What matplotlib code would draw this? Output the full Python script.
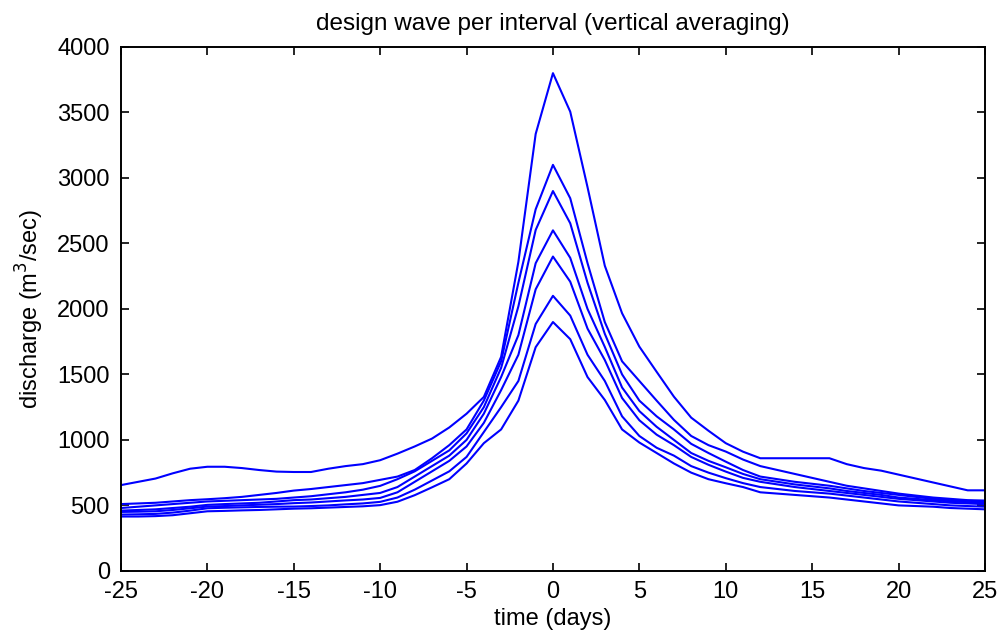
import numpy as np
import matplotlib
matplotlib.use("Agg")
import matplotlib.pyplot as plt

plt.rcParams['font.family'] = ['Liberation Sans', 'DejaVu Sans']
plt.rcParams['axes.unicode_minus'] = False

days = np.arange(-25, 26)

# discharge per interval (m3/sec), one list per design wave, days -25..25
wave_a = [655, 680, 705, 745, 780, 795, 795, 785, 770, 758, 755, 755, 780, 800, 815, 845, 895, 950, 1010, 1095,
          1200, 1328, 1634, 2360, 3336, 3800, 3506, 2930, 2330, 1967, 1712, 1520, 1330, 1170, 1070, 975, 910, 860,
          860, 860, 860, 860, 815, 785, 765, 735, 705, 675, 645, 615, 615]
wave_b = [510, 515, 520, 530, 540, 547, 555, 565, 580, 595, 613, 625, 640, 655, 670, 695, 720, 770, 860, 960,
          1080, 1300, 1600, 2200, 2761, 3100, 2845, 2350, 1900, 1600, 1450, 1300, 1153, 1030, 960, 911, 850, 800,
          770, 740, 710, 680, 650, 630, 610, 590, 575, 560, 550, 540, 537]
wave_c = [480, 490, 500, 510, 520, 530, 535, 540, 545, 550, 560, 570, 585, 600, 620, 649, 700, 760, 840, 920,
          1050, 1250, 1550, 2020, 2603, 2900, 2654, 2200, 1810, 1500, 1300, 1180, 1080, 970, 900, 834, 770, 720,
          700, 680, 665, 650, 630, 610, 595, 580, 565, 550, 540, 535, 530]
wave_d = [460, 465, 470, 480, 490, 504, 510, 515, 520, 530, 540, 545, 555, 565, 580, 595, 640, 720, 800, 880,
          1000, 1200, 1480, 1800, 2349, 2600, 2390, 2000, 1710, 1400, 1220, 1100, 1000, 900, 840, 791, 740, 700,
          680, 660, 645, 630, 610, 595, 580, 560, 550, 540, 530, 525, 520]
wave_e = [450, 452, 455, 465, 478, 491, 495, 500, 505, 510, 517, 522, 530, 538, 545, 557, 600, 680, 760, 840,
          950, 1130, 1380, 1650, 2150, 2400, 2208, 1850, 1610, 1320, 1150, 1040, 960, 870, 810, 758, 710, 680,
          660, 640, 625, 610, 595, 580, 565, 550, 540, 530, 520, 515, 510]
wave_f = [430, 432, 435, 445, 460, 478, 482, 485, 488, 490, 491, 495, 500, 508, 515, 527, 560, 620, 690, 760,
          870, 1060, 1250, 1450, 1885, 2100, 1949, 1650, 1450, 1180, 1030, 940, 880, 800, 750, 708, 670, 640,
          625, 610, 600, 590, 575, 560, 545, 530, 520, 510, 500, 495, 490]
wave_g = [415, 415, 418, 425, 440, 455, 458, 462, 465, 470, 475, 478, 483, 488, 493, 502, 528, 578, 638, 700,
          820, 975, 1080, 1300, 1708, 1900, 1769, 1480, 1305, 1080, 980, 900, 820, 750, 700, 669, 640, 600,
          590, 580, 570, 560, 545, 530, 515, 500, 495, 490, 480, 475, 470]

waves = [wave_a, wave_b, wave_c, wave_d, wave_e, wave_f, wave_g]

fig = plt.figure(figsize=(10.03, 6.4), dpi=100)
ax = fig.add_axes([0.1206, 0.108, 0.8614, 0.8186])

for w in waves:
    ax.plot(days, w, color='#0000ff', linewidth=1.5)

ax.set_xlim(-25, 25)
ax.set_ylim(0, 4000)
ax.set_xticks(np.arange(-25, 26, 5))
ax.set_yticks(np.arange(0, 4001, 500))
ax.tick_params(direction='in', length=6, width=1.2, top=True, right=True, labelsize=17)
ax.tick_params(axis='x', pad=7)
ax.tick_params(axis='y', pad=8)
for s in ax.spines.values():
    s.set_linewidth(1.4)

ax.set_title('design wave per interval (vertical averaging)', fontsize=17.5, pad=12)
ax.set_xlabel('time (days)', fontsize=17, labelpad=4)
ax.set_ylabel('discharge (m$^3$/sec)', fontsize=17, labelpad=8)

fig.savefig('out.png', dpi=100)
